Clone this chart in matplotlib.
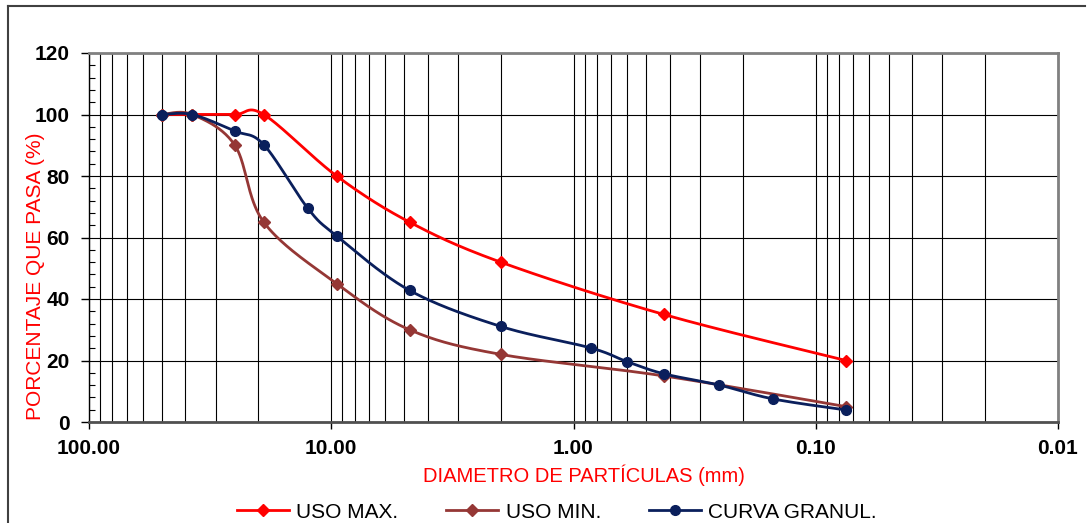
import numpy as np
import matplotlib
matplotlib.use("Agg")
import matplotlib.pyplot as plt
from matplotlib.ticker import FixedLocator, MultipleLocator, NullFormatter
from matplotlib.lines import Line2D

plt.rcParams['font.family'] = ['Liberation Sans', 'DejaVu Sans']

# sieve openings (mm) and percent passing
uso_max_d = [50, 37.5, 25, 19, 9.5, 4.75, 2.0, 0.425, 0.075]
uso_max_p = [100, 100, 100, 100, 80, 65, 52, 35, 20]

uso_min_d = [50, 37.5, 25, 19, 9.5, 4.75, 2.0, 0.425, 0.075]
uso_min_p = [100, 100, 90, 65, 45, 30, 22, 15, 5]

curva_d = [50, 37.5, 25, 19, 12.5, 9.5, 4.75, 2.0, 0.85, 0.6, 0.425, 0.25, 0.15, 0.075]
curva_p = [100, 100, 94.6, 90.2, 69.5, 60.5, 42.8, 31.1, 24.1, 19.6, 15.7, 12.0, 7.5, 3.9]

x_ticks = [100, 10, 1, 0.1, 0.01]
x_ticklabels = ['100.00', '10.00', '1.00', '0.10', '0.01']


def smooth(d, p, n=40):
    # excel-like smoothed line: catmull-rom bezier in (log d, p) space
    pts = np.column_stack([np.log10(d), p]).astype(float)
    ext = np.vstack([pts[0], pts, pts[-1]])
    t = np.linspace(0, 1, n)[:, None]
    out = []
    for i in range(1, len(ext) - 2):
        p0, p1, p2, p3 = ext[i - 1], ext[i], ext[i + 1], ext[i + 2]
        b1 = p1 + (p2 - p0) / 6
        b2 = p2 - (p3 - p1) / 6
        seg = ((1 - t) ** 3) * p1 + 3 * ((1 - t) ** 2) * t * b1 + 3 * (1 - t) * t ** 2 * b2 + t ** 3 * p2
        out.append(seg)
    out = np.vstack(out)
    return 10 ** out[:, 0], out[:, 1]


fig = plt.figure(figsize=(10.9, 5.23), dpi=100)
ax = fig.add_axes([89 / 1090, 1 - 422 / 523, (1058 - 89) / 1090, (422 - 53) / 523])

series = [
    (uso_max_d, uso_max_p, '#ff0000', 'D', 6.5, 'USO MAX.'),
    (uso_min_d, uso_min_p, '#953735', 'D', 6.5, 'USO MIN.'),
    (curva_d, curva_p, '#0a1f5c', 'o', 7, 'CURVA GRANUL.'),
]
handles = []
for i, (d, p, c, m, ms, lab) in enumerate(series):
    sx, sy = smooth(d, p)
    ax.plot(sx, sy, color=c, lw=2, zorder=3 + i, solid_capstyle='round')
    ax.plot(d, p, ls='none', marker=m, ms=ms, color=c, zorder=3 + i)
    handles.append(Line2D([], [], color=c, lw=2, marker=m, ms=ms, label=lab))

ax.set_xscale('log')
ax.set_xlim(100, 0.01)
ax.set_ylim(0, 120)

ax.xaxis.set_major_locator(FixedLocator(x_ticks))
ax.set_xticklabels(x_ticklabels)
minors = [k * 10.0 ** e for e in range(-2, 2) for k in range(2, 10)]
ax.xaxis.set_minor_locator(FixedLocator(minors))
ax.xaxis.set_minor_formatter(NullFormatter())
ax.yaxis.set_major_locator(MultipleLocator(20))
ax.yaxis.set_minor_locator(MultipleLocator(4))

ax.grid(True, which='major', axis='both', color='black', lw=0.8)
ax.grid(True, which='minor', axis='x', color='black', lw=0.8)

ax.tick_params(axis='x', which='major', direction='out', length=5, width=1, pad=7,
               labelsize=15)
ax.tick_params(axis='x', which='minor', length=0)
ax.tick_params(axis='y', which='major', direction='out', length=6, width=1, pad=8,
               labelsize=15)
ax.tick_params(axis='y', which='minor', direction='in', length=4, width=0.8)
for lbl in ax.get_xticklabels() + ax.get_yticklabels():
    lbl.set_fontweight('bold')

ax.spines['top'].set_color('#808080')
ax.spines['right'].set_color('#808080')
ax.spines['top'].set_linewidth(2)
ax.spines['right'].set_linewidth(2)
ax.spines['bottom'].set_color('#505050')
ax.spines['bottom'].set_linewidth(2)
ax.spines['left'].set_color('black')
ax.spines['left'].set_linewidth(1)

fig.text(584 / 1090, 1 - 475 / 523, 'DIAMETRO DE PARTÍCULAS (mm)', color='red',
         fontsize=14.5, ha='center', va='center')
fig.text(36 / 1090, 1 - 276 / 523, 'PORCENTAJE QUE PASA (%)', color='red',
         fontsize=15, ha='center', va='center', rotation=90)

fig.legend(handles=handles, loc='center', bbox_to_anchor=(557 / 1090, 1 - 512 / 523),
           ncol=3, frameon=False, fontsize=15, handlelength=2.5, handletextpad=0.35,
           columnspacing=2.3)

# chart area border (left and top edges visible)
fig.add_artist(Line2D([8 / 1090, 8 / 1090], [0, 1 - 6 / 523], color='#404040', lw=1.5,
                      transform=fig.transFigure))
fig.add_artist(Line2D([8 / 1090, 1085 / 1090], [1 - 6 / 523, 1 - 6 / 523], color='#404040',
                      lw=1.5, transform=fig.transFigure))

fig.savefig('out.png', dpi=100)
